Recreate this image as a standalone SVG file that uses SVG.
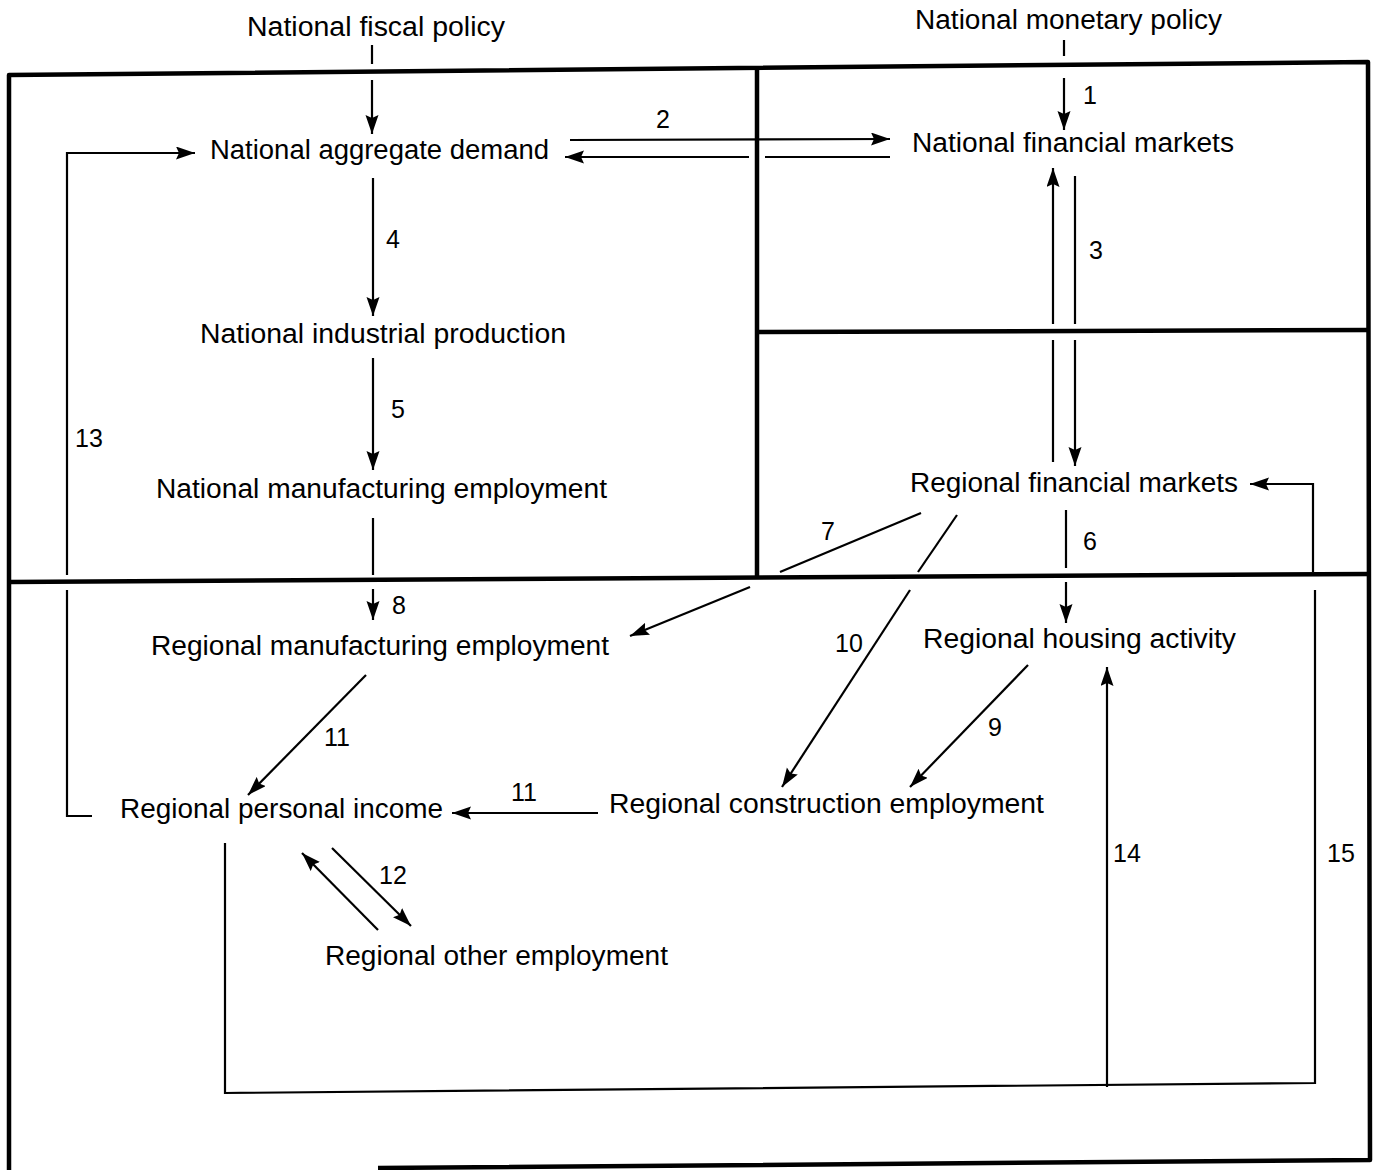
<svg xmlns="http://www.w3.org/2000/svg" width="1381" height="1170" viewBox="0 0 1381 1170">
<style>
.t{font-family:"Liberation Sans",Arial,Helvetica,sans-serif;font-size:27px;fill:#000}
.n{font-family:"Liberation Sans",Arial,Helvetica,sans-serif;font-size:25px;fill:#000}
.frame{fill:none;stroke:#000;stroke-width:4.5;stroke-linejoin:round}
.c{fill:none;stroke:#000;stroke-width:2.2}
.a{fill:none;stroke:#000;stroke-width:2.2;marker-end:url(#ah)}
</style>
<defs>
<marker id="ah" markerUnits="userSpaceOnUse" markerWidth="22" markerHeight="14" refX="19" refY="6.5" orient="auto">
<path d="M0,0 L19,6.5 L0,13 L3,6.5 Z" fill="#000"/>
</marker>
</defs>
<rect width="1381" height="1170" fill="#fff"/>
<g id="frame">
<path class="frame" d="M9,1170 L9,75 L1368,62 L1370,1160 L378,1168"/>
<path class="frame" d="M757,70 L757,578"/>
<path class="frame" d="M757,332 L1370,330"/>
<path class="frame" d="M9,582 L1370,574"/>
</g>
<g id="connectors">
<path class="c" d="M372,45 L372,64"/>
<path class="a" d="M372,80 L372,134"/>
<path class="c" d="M1064,40 L1064,56"/>
<path class="a" d="M1064,78 L1064,130"/>
<path class="a" d="M570,140 L890,139"/>
<path class="c" d="M890,157 L765,157"/>
<path class="a" d="M749,157 L565,157"/>
<path class="c" d="M1053,462 L1053,340"/>
<path class="a" d="M1053,324 L1053,168"/>
<path class="c" d="M1075,176 L1075,324"/>
<path class="a" d="M1075,340 L1075,466"/>
<path class="a" d="M373,178 L373,316"/>
<path class="a" d="M373,358 L373,470"/>
<path class="c" d="M373,518 L373,575"/>
<path class="a" d="M373,589 L373,620"/>
<path class="c" d="M1066,510 L1066,568"/>
<path class="a" d="M1066,582 L1066,623"/>
<path class="c" d="M921,513 L780,572"/>
<path class="a" d="M750,587 L630,636"/>
<path class="c" d="M957,515 L918,572"/>
<path class="a" d="M910,590 L782,787"/>
<path class="a" d="M1028,665 L910,787"/>
<path class="a" d="M366,675 L248,795"/>
<path class="a" d="M598,813 L452,813"/>
<path class="c" d="M92,816 L67,816 L67,590"/>
<path class="a" d="M67,575 L67,153 L195,153"/>
<path class="a" d="M332,848 L411,926"/>
<path class="a" d="M378,930 L302,853"/>
<path class="c" d="M225,843 L225,1093 L1315,1083 L1315,590"/>
<path class="a" d="M1313,572 L1313,484 L1250,484"/>
<path class="a" d="M1107,1087 L1107,667"/>
</g>
<g id="n-fiscal"><text class="t" x="247" y="36" textLength="258" lengthAdjust="spacingAndGlyphs">National fiscal policy</text></g>
<g id="n-monetary"><text class="t" x="915" y="29" textLength="307" lengthAdjust="spacingAndGlyphs">National monetary policy</text></g>
<g id="n-demand"><text class="t" x="210" y="159" textLength="339" lengthAdjust="spacingAndGlyphs">National aggregate demand</text></g>
<g id="n-natfin"><text class="t" x="912" y="152" textLength="322" lengthAdjust="spacingAndGlyphs">National financial markets</text></g>
<g id="n-natind"><text class="t" x="200" y="343" textLength="366" lengthAdjust="spacingAndGlyphs">National industrial production</text></g>
<g id="n-natmfg"><text class="t" x="156" y="498" textLength="451" lengthAdjust="spacingAndGlyphs">National manufacturing employment</text></g>
<g id="n-regfin"><text class="t" x="910" y="492" textLength="328" lengthAdjust="spacingAndGlyphs">Regional financial markets</text></g>
<g id="n-regmfg"><text class="t" x="151" y="655" textLength="458" lengthAdjust="spacingAndGlyphs">Regional manufacturing employment</text></g>
<g id="n-housing"><text class="t" x="923" y="648" textLength="313" lengthAdjust="spacingAndGlyphs">Regional housing activity</text></g>
<g id="n-constr"><text class="t" x="609" y="813" textLength="435" lengthAdjust="spacingAndGlyphs">Regional construction employment</text></g>
<g id="n-income"><text class="t" x="120" y="818" textLength="323" lengthAdjust="spacingAndGlyphs">Regional personal income</text></g>
<g id="n-other"><text class="t" x="325" y="965" textLength="343" lengthAdjust="spacingAndGlyphs">Regional other employment</text></g>
<g id="labels">
<text class="n" x="1083" y="104">1</text>
<text class="n" x="656" y="128">2</text>
<text class="n" x="1089" y="259">3</text>
<text class="n" x="386" y="248">4</text>
<text class="n" x="391" y="418">5</text>
<text class="n" x="1083" y="550">6</text>
<text class="n" x="821" y="540">7</text>
<text class="n" x="392" y="614">8</text>
<text class="n" x="988" y="736">9</text>
<text class="n" x="835" y="652">10</text>
<text class="n" x="324" y="746">11</text>
<text class="n" x="511" y="801">11</text>
<text class="n" x="379" y="884">12</text>
<text class="n" x="75" y="447">13</text>
<text class="n" x="1113" y="862">14</text>
<text class="n" x="1327" y="862">15</text>
</g>
</svg>
